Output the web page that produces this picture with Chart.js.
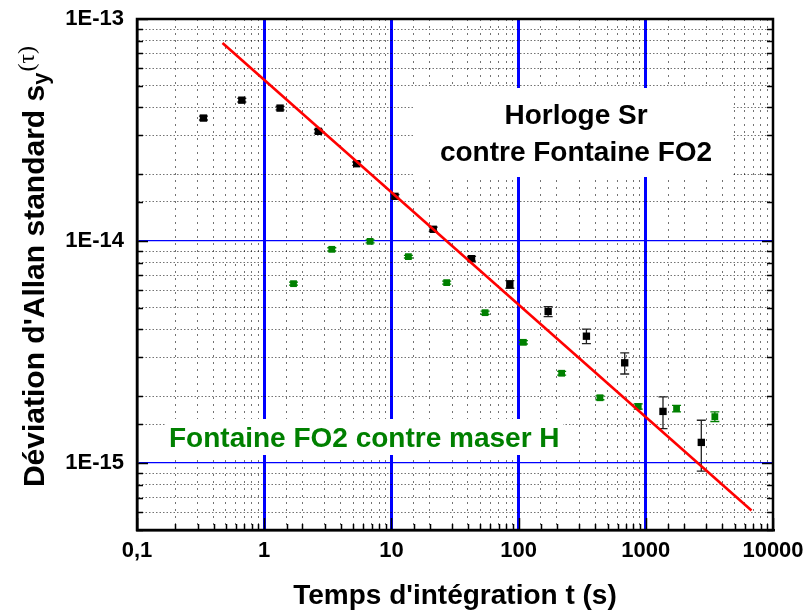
<!DOCTYPE html>
<html>
<head>
<meta charset="utf-8">
<script src="https://cdn.jsdelivr.net/npm/chart.js@4.4.1/dist/chart.umd.min.js"></script>
<style>
  html, body { margin: 0; padding: 0; background: #fff; }
</style>
</head>
<body>
<canvas id="allanChart" width="807" height="616"></canvas>
<script>
// Horloge Sr contre Fontaine FO2 (points noirs)
const srTau = [0.333, 0.667, 1.333, 2.667, 5.333, 10.67, 21.33, 42.67, 85.33, 170.7, 341.3, 682.7, 1365, 2731];
const srSigma = [3.58e-14, 4.31e-14, 3.97e-14, 3.12e-14, 2.23e-14, 1.59e-14, 1.13e-14, 8.33e-15, 6.38e-15, 4.82e-15, 3.73e-15, 2.83e-15, 1.71e-15, 1.24e-15];
const srErr = [0.07e-14, 0.08e-14, 0.07e-14, 0.06e-14, 0.04e-14, 0.03e-14, 0.025e-14, 0.02e-14, 0.025e-14, 0.25e-15, 0.28e-15, 0.31e-15, 0.28e-15, 0.32e-15];

// Fontaine FO2 contre maser H (points verts)
const masTau = [1.7, 3.4, 6.8, 13.6, 27.2, 54.5, 109, 218, 436, 872, 1745, 3490];
const masSigma = [6.43e-15, 9.18e-15, 9.97e-15, 8.51e-15, 6.5e-15, 4.76e-15, 3.5e-15, 2.54e-15, 1.97e-15, 1.80e-15, 1.76e-15, 1.62e-15];
const masErr = [0.1e-15, 0.15e-15, 0.15e-15, 0.12e-15, 0.1e-15, 0.08e-15, 0.06e-15, 0.05e-15, 0.04e-15, 0.05e-15, 0.06e-15, 0.08e-15];

// droite en tau^-1/2
const fitTau = [0.47, 6780];
const fitSigma = [7.8e-14, 6.12e-16];

const xTickLabels = { '-1': '0,1', '0': '1', '1': '10', '2': '100', '3': '1000', '4': '10000' };
const yTickLabels = { '-13': '1E-13', '-14': '1E-14', '-15': '1E-15' };

const BLUE = '#0000ff';
const GREEN = '#008000';
const DOTS = 'rgba(0,0,0,0.55)';
const SANS = "'Liberation Sans', Arial, sans-serif";

function decade(v) {
    const l = Math.log10(v);
    return Math.abs(l - Math.round(l)) < 1e-6 ? Math.round(l) : null;
}

function toPoints(xs, ys) {
    return xs.map((x, i) => ({ x: x, y: ys[i] }));
}

const decorPlugin = {
    id: 'decor',
    beforeDatasetsDraw(chart) {
        const { ctx, chartArea: a, scales: { x, y } } = chart;
        ctx.save();

        // cadres blancs sous les textes
        ctx.fillStyle = '#fff';
        ctx.fillRect(413, 88, 320, 89);
        ctx.fillRect(165, 419, 398, 36);

        ctx.fillStyle = '#000';
        ctx.font = 'bold 28px ' + SANS;
        ctx.textAlign = 'center';
        ctx.textBaseline = 'alphabetic';
        ctx.fillText('Horloge Sr', 576, 124);
        ctx.fillText('contre Fontaine FO2', 576, 161);

        ctx.fillStyle = GREEN;
        ctx.textAlign = 'left';
        ctx.font = 'bold 28px ' + SANS;
        ctx.fillText('Fontaine FO2 contre maser H', 169, 447);

        // graduations vers l'intérieur
        ctx.strokeStyle = '#000';
        ctx.lineWidth = 1.5;
        ctx.beginPath();
        y.ticks.forEach(t => {
            const py = Math.round(y.getPixelForValue(t.value)) + 0.5;
            const len = decade(t.value) !== null ? 11 : 6;
            ctx.moveTo(a.left, py); ctx.lineTo(a.left + len, py);
            ctx.moveTo(a.right, py); ctx.lineTo(a.right - len, py);
        });
        x.ticks.forEach(t => {
            const px = Math.round(x.getPixelForValue(t.value)) + 0.5;
            const len = decade(t.value) !== null ? 12 : 6;
            ctx.moveTo(px, a.bottom); ctx.lineTo(px, a.bottom - len);
        });
        ctx.stroke();

        // cadre
        ctx.lineWidth = 2.5;
        ctx.strokeRect(a.left, a.top, a.right - a.left, a.bottom - a.top);

        // barres d'erreur
        const bars = [
            { xs: srTau, ys: srSigma, es: srErr, color: '#222' },
            { xs: masTau, ys: masSigma, es: masErr, color: GREEN }
        ];
        ctx.lineWidth = 1.3;
        bars.forEach(b => {
            ctx.strokeStyle = b.color;
            ctx.beginPath();
            b.xs.forEach((xv, i) => {
                const px = x.getPixelForValue(xv);
                const top = y.getPixelForValue(b.ys[i] + b.es[i]);
                const bot = y.getPixelForValue(b.ys[i] - b.es[i]);
                ctx.moveTo(px, top); ctx.lineTo(px, bot);
                ctx.moveTo(px - 4.5, top); ctx.lineTo(px + 4.5, top);
                ctx.moveTo(px - 4.5, bot); ctx.lineTo(px + 4.5, bot);
            });
            ctx.stroke();
        });
        ctx.restore();
    },
    afterDraw(chart) {
        const { ctx, chartArea: a } = chart;
        ctx.save();
        ctx.fillStyle = '#000';
        ctx.textBaseline = 'alphabetic';

        // titre axe x
        ctx.font = 'bold 28px ' + SANS;
        ctx.textAlign = 'center';
        ctx.fillText("Temps d'intégration t (s)", (a.left + a.right) / 2, 604);

        // titre axe y avec sigma_y(tau)
        const main = "Déviation d'Allan standard s";
        const mainFont = 'bold 30px ' + SANS;
        const subFont = 'bold 22px ' + SANS;
        const tauFont = '24px "Liberation Serif", serif';
        ctx.font = mainFont; const w1 = ctx.measureText(main).width;
        ctx.font = subFont; const w2 = ctx.measureText('y').width;
        ctx.font = tauFont; const w3 = ctx.measureText('(τ)').width;
        const total = w1 + w2 + w3;
        ctx.translate(44, 267);
        ctx.rotate(-Math.PI / 2);
        ctx.textAlign = 'left';
        let cx = -total / 2;
        ctx.font = mainFont; ctx.fillText(main, cx, 0); cx += w1;
        ctx.font = subFont; ctx.fillText('y', cx, 4); cx += w2;
        ctx.font = tauFont; ctx.fillText('(τ)', cx + 1, -10);
        ctx.restore();
    }
};

new Chart(document.getElementById('allanChart').getContext('2d'), {
    type: 'scatter',
    data: {
        datasets: [
            {
                label: 'Horloge Sr contre Fontaine FO2',
                data: toPoints(srTau, srSigma),
                pointStyle: 'rect',
                pointRadius: 5.2,
                backgroundColor: '#000',
                borderColor: '#000',
                borderWidth: 0,
                order: 2
            },
            {
                label: 'Fontaine FO2 contre maser H',
                data: toPoints(masTau, masSigma),
                pointStyle: 'rect',
                pointRadius: 4.8,
                backgroundColor: GREEN,
                borderColor: GREEN,
                borderWidth: 0,
                order: 3
            },
            {
                type: 'line',
                label: 'tau^-1/2',
                data: toPoints(fitTau, fitSigma),
                borderColor: '#ff0000',
                borderWidth: 2.6,
                pointRadius: 0,
                fill: false,
                order: 1
            }
        ]
    },
    options: {
        responsive: false,
        animation: false,
        events: [],
        layout: { padding: { left: 0, right: 34, top: 19, bottom: 0 } },
        plugins: { legend: { display: false }, tooltip: { enabled: false } },
        scales: {
            x: {
                type: 'logarithmic',
                min: 0.1,
                max: 10000,
                afterFit(s) { s.height = 86; },
                grid: {
                    drawTicks: true,
                    tickLength: 7,
                    tickColor: 'rgba(0,0,0,0)',
                    color: c => {
                        const d = decade(c.tick.value);
                        if (d === -1 || d === 4) return 'rgba(0,0,0,0)';
                        return d !== null ? BLUE : DOTS;
                    },
                    lineWidth: c => decade(c.tick.value) !== null ? 3 : 1
                },
                border: {
                    color: '#000',
                    width: 2.5,
                    dash: c => (c.tick && decade(c.tick.value) !== null) ? [] : [2, 5]
                },
                ticks: {
                    autoSkip: false,
                    maxRotation: 0,
                    padding: 1,
                    color: '#000',
                    font: { family: SANS, weight: 'bold', size: 22 },
                    callback: v => {
                        const d = decade(v);
                        return d !== null && xTickLabels[d] !== undefined ? xTickLabels[d] : '';
                    }
                }
            },
            y: {
                type: 'logarithmic',
                min: 5e-16,
                max: 1e-13,
                afterFit(s) { s.width = 137; },
                grid: {
                    drawTicks: true,
                    tickLength: 12,
                    tickColor: 'rgba(0,0,0,0)',
                    color: c => {
                        const d = decade(c.tick.value);
                        if (d === -13) return 'rgba(0,0,0,0)';
                        return d !== null ? BLUE : DOTS;
                    },
                    lineWidth: c => decade(c.tick.value) !== null ? 1.3 : 1
                },
                border: {
                    color: '#000',
                    width: 2.5,
                    dash: c => (c.tick && decade(c.tick.value) !== null) ? [] : [1.5, 2]
                },
                ticks: {
                    autoSkip: false,
                    padding: 1,
                    color: '#000',
                    font: { family: SANS, weight: 'bold', size: 22 },
                    callback: v => {
                        const d = decade(v);
                        return d !== null && yTickLabels[d] !== undefined ? yTickLabels[d] : '';
                    }
                }
            }
        }
    },
    plugins: [decorPlugin]
});
</script>
</body>
</html>
